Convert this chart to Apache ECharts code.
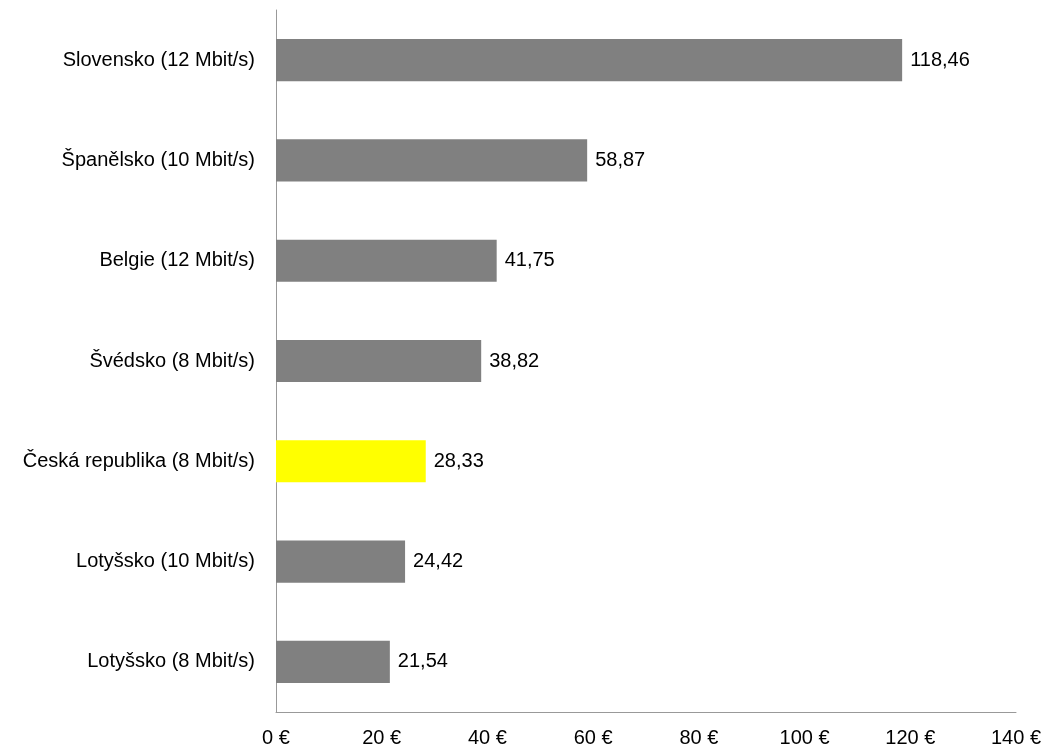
<!DOCTYPE html>
<html><head><meta charset="utf-8">
<script src="https://cdn.jsdelivr.net/npm/echarts@6/dist/echarts.min.js"></script>
<style>html,body{margin:0;padding:0;background:#fff}#c{width:1048px;height:748px}</style>
</head><body><div id="c"></div>
<script>
const categories = ["Lotyšsko (8 Mbit/s)","Lotyšsko (10 Mbit/s)","Česká republika (8 Mbit/s)","Švédsko (8 Mbit/s)","Belgie (12 Mbit/s)","Španělsko (10 Mbit/s)","Slovensko (12 Mbit/s)"];
const values = [21.54, 24.42, 28.33, 38.82, 41.75, 58.87, 118.46];
const highlight = "Česká republika (8 Mbit/s)";
const FONT = 'Liberation Sans, Arial, sans-serif';
const FS = 20;
const chart = echarts.init(document.getElementById('c'));
chart.setOption({
  animation:false,
  grid:{left:276,right:32,top:10,bottom:35,containLabel:false},
  xAxis:{type:'value',min:0,max:140,interval:20,
    axisLine:{show:true,lineStyle:{color:'#999',width:1}},
    axisTick:{show:false},splitLine:{show:false},
    axisLabel:{formatter:v=>v+' €',color:'#000',fontSize:FS,fontFamily:FONT,margin:16}},
  yAxis:{type:'category',data:categories,
    axisLine:{show:true,lineStyle:{color:'#999',width:1}},
    axisTick:{show:false},
    axisLabel:{color:'#000',fontSize:FS,fontFamily:FONT,margin:21}},
  series:[{type:'bar',barWidth:'42%',
    data:values.map((v,i)=>({value:v,itemStyle:{color:categories[i]===highlight?'#FFFF00':'#808080'}})),
    label:{show:true,position:'right',distance:8,color:'#000',fontSize:FS,fontFamily:FONT,
      formatter:p=>p.value.toFixed(2).replace('.',',')}}]
});
</script></body></html>
